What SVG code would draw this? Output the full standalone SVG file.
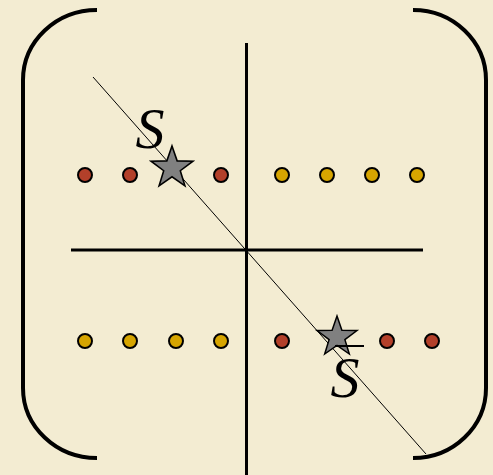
<svg xmlns="http://www.w3.org/2000/svg" width="493" height="475" viewBox="0 0 493 475">
<defs>
<style>
.bracket{fill:none;stroke:#000;stroke-width:4}
.axis{stroke:#000;stroke-width:3}
.diag{stroke:#000;stroke-width:1}
.red{fill:#b3402a;stroke:#000;stroke-width:2}
.yel{fill:#d6a500;stroke:#000;stroke-width:2}
.star{fill:#808080;stroke:#000;stroke-width:1.5;stroke-linejoin:miter}
.lbl{font-family:"Liberation Serif",serif;font-style:italic;font-size:58px;fill:#000;text-anchor:middle}
</style>
<polygon id="starshape" points="0,-21 4.9,-6.8 20,-6.5 7.9,2.6 12.3,17 0,8.4 -12.3,17 -7.9,2.6 -20,-6.5 -4.9,-6.8"/>
</defs>
<rect width="493" height="475" fill="#f3ecd2"/>
<g id="brackets">
<path class="bracket" d="M97,10 A74,70 0 0 0 23,80 L23,388 A74,70 0 0 0 97,458"/>
<path class="bracket" d="M413,10 A73,70 0 0 1 486,80 L486,388 A73,70 0 0 1 413,458"/>
</g>
<g id="connectors">
<line class="axis" x1="246.5" y1="43" x2="246.5" y2="475"/>
<line class="axis" x1="71" y1="250" x2="423" y2="250"/>
<line class="diag" x1="93" y1="77" x2="426" y2="454"/>
</g>
<g id="row1">
<circle class="red" cx="85" cy="175" r="7"/>
<circle class="red" cx="130" cy="175" r="7"/>
<circle class="red" cx="221" cy="175" r="7"/>
<circle class="yel" cx="282" cy="175" r="7"/>
<circle class="yel" cx="327" cy="175" r="7"/>
<circle class="yel" cx="372" cy="175" r="7"/>
<circle class="yel" cx="417" cy="175" r="7"/>
</g>
<g id="row2">
<circle class="yel" cx="85" cy="341" r="7"/>
<circle class="yel" cx="130" cy="341" r="7"/>
<circle class="yel" cx="176" cy="341" r="7"/>
<circle class="yel" cx="221" cy="341" r="7"/>
<circle class="red" cx="282" cy="341" r="7"/>
<circle class="red" cx="387" cy="341" r="7"/>
<circle class="red" cx="432" cy="341" r="7"/>
</g>
<g id="star1">
<use href="#starshape" class="star" transform="translate(172,168) scale(1.05)"/>
</g>
<g id="star2">
<use href="#starshape" class="star" transform="translate(337,337)"/>
</g>
<g id="label-S">
<text class="lbl" x="150" y="148">S</text>
</g>
<g id="label-Sbar">
<line x1="335" y1="346" x2="364" y2="346" stroke="#000" stroke-width="2"/>
<text class="lbl" x="345" y="397">S</text>
</g>
</svg>
